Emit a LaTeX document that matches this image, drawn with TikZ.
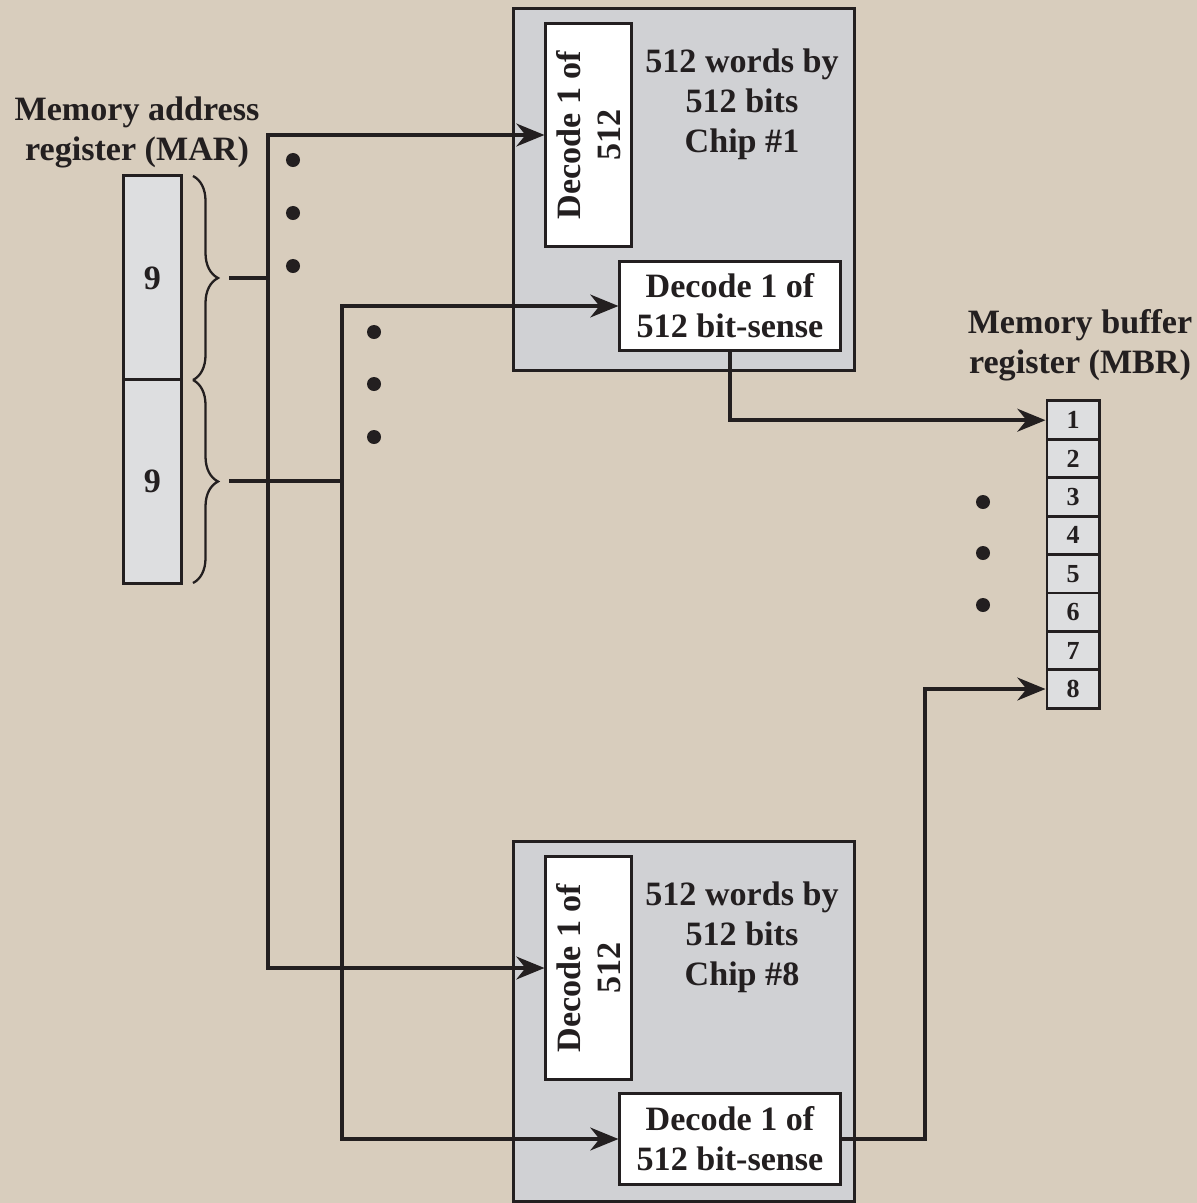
\documentclass[tikz,border=0pt]{standalone}
\usepackage{fontspec}
\setmainfont{Liberation Serif}
\usepackage{xcolor}
\usetikzlibrary{arrows.meta, decorations.pathreplacing}

\definecolor{paper}{RGB}{216,205,189}
\definecolor{chipgray}{RGB}{208,209,212}
\definecolor{cellgray}{RGB}{221,222,224}
\definecolor{ink}{RGB}{35,31,32}

\begin{document}
\begin{tikzpicture}[x=0.01cm, y=-0.01cm,
  every node/.style={font=\fontsize{9.7}{11.4}\selectfont\bfseries, text=ink},
  box/.style={draw=ink, line width=0.85pt, inner sep=0pt},
  wire/.style={draw=ink, line width=1.05pt},
  arr/.style={wire, -{Stealth[length=8pt, width=6.5pt]}},
  curly/.style={draw=ink, line width=0.65pt, decorate, decoration={brace, amplitude=0.25cm}}]

  \fill[paper] (0,0) rectangle (1197,1203);
  \useasboundingbox (0,0) rectangle (1197,1203);

  % memory address register
  \node[align=center] (marlabel) at (137,132) {Memory address\\register (MAR)};
  \node[box, fill=cellgray, minimum width=0.57cm, minimum height=2.04cm] (mar1) at (152.5,278) {9};
  \node[box, fill=cellgray, minimum width=0.57cm, minimum height=2.03cm] (mar2) at (152.5,481.5) {9};
  \draw[curly] (193,176) -- (193,380);
  \draw[curly] (193,380) -- (193,583);
  \coordinate (tipA) at (229,278);
  \coordinate (jA) at (268,278);
  \coordinate (tipB) at (229,481);
  \coordinate (jB) at (342,481);

  % chip #1
  \node[box, fill=chipgray, minimum width=3.40cm, minimum height=3.61cm] (chip1) at (684,189.5) {};
  \node[box, fill=white, minimum width=0.85cm, minimum height=2.22cm] (dec1) at (588.5,135) {};
  \node[rotate=90, align=center] (dec1text) at (dec1) {Decode 1 of\\512};
  \node[align=center] (words1) at (742,104) {512 words by\\512 bits\\Chip \#1};
  \node[box, fill=white, minimum width=2.20cm, minimum height=0.88cm, align=center] (sense1) at (730,306) {Decode 1 of\\512 bit-sense};

  % chip #8
  \node[box, fill=chipgray, minimum width=3.40cm, minimum height=3.59cm] (chip8) at (684,1021.5) {};
  \node[box, fill=white, minimum width=0.85cm, minimum height=2.22cm] (dec8) at (588.5,968) {};
  \node[rotate=90, align=center] (dec8text) at (dec8) {Decode 1 of\\512};
  \node[align=center] (words8) at (742,937) {512 words by\\512 bits\\Chip \#8};
  \node[box, fill=white, minimum width=2.20cm, minimum height=0.90cm, align=center] (sense8) at (730,1139) {Decode 1 of\\512 bit-sense};

  % memory buffer register
  \node[align=center] (mbrlabel) at (1080,345) {Memory buffer\\register (MBR)};
  \foreach \i in {1,...,8}
    \node[box, fill=cellgray, minimum width=0.52cm, minimum height=0.384cm, font=\fontsize{7.4}{8}\selectfont\bfseries] (mbr\i) at ({1073},{401+38.4*(\i-0.5)}) {\i};

  % dots
  \foreach \y in {160,213,266} \fill[ink] (293,\y) circle[radius=0.07cm];
  \foreach \y in {332,384,437} \fill[ink] (374,\y) circle[radius=0.07cm];
  \foreach \y in {502,553,605} \fill[ink] (983,\y) circle[radius=0.07cm];

  % wiring
  \draw[wire] (tipA) -- (jA);
  \draw[arr] (jA) |- (dec1.west);
  \draw[arr] (jA) |- (dec8.west);
  \draw[wire] (tipB) -- (jB);
  \draw[arr] (jB) |- (sense1.west);
  \draw[arr] (jB) |- (sense8.west);
  \draw[arr] (sense1.south) |- (mbr1.west);
  \coordinate (col8) at (925,0);
  \draw[arr] (sense8.east) -- (sense8.east -| col8) |- (mbr8.west);
\end{tikzpicture}
\end{document}
